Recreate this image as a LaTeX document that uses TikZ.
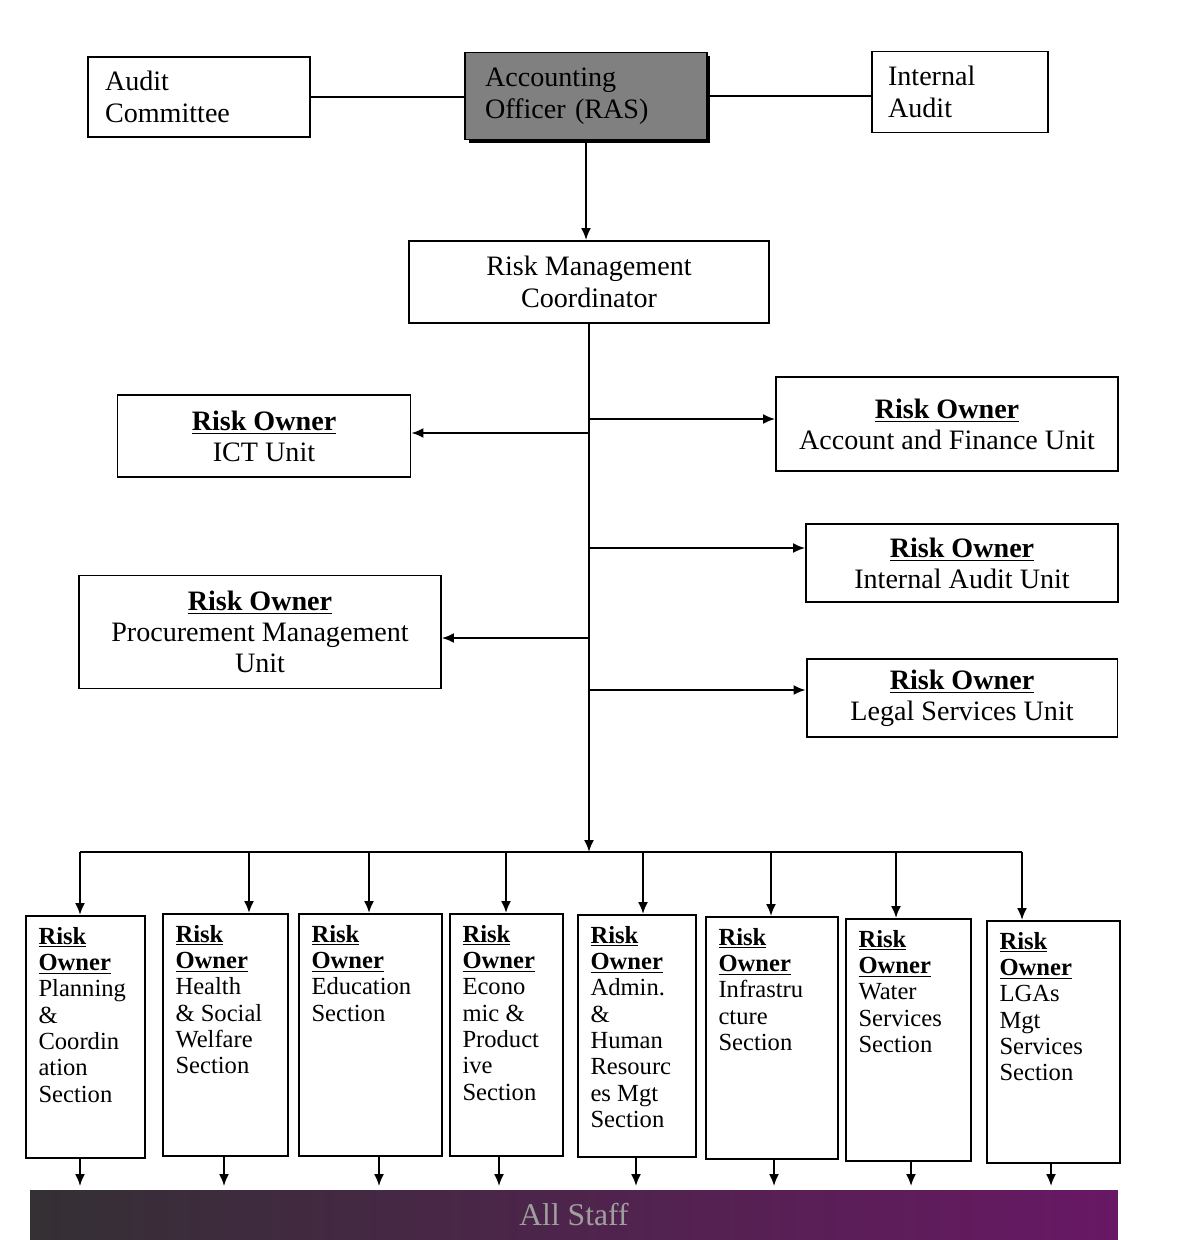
\documentclass[tikz,border=0pt]{standalone}
\usepackage{fontspec}
\setmainfont{Liberation Serif}
\usetikzlibrary{shapes, arrows.meta, positioning, shadows}
\definecolor{aogray}{RGB}{128,128,128}
\definecolor{staffdark}{RGB}{52,48,52}
\definecolor{staffpurple}{RGB}{104,24,100}
\tikzstyle{block} = [draw, fill=white, rectangle, line width=1.1pt, inner sep=0pt]
\tikzstyle{upperbox} = [block, align=left, font=\fontsize{16}{18}\selectfont]
\tikzstyle{ownerbox} = [block, align=center, font=\fontsize{16}{17.6}\selectfont]
\tikzstyle{secbox} = [block, anchor=north, inner xsep=0.25cm, inner ysep=0.22cm, font=\fontsize{14}{15}\selectfont]
\newcommand{\rohead}{\textbf{\underline{Risk Owner}}}
\newcommand{\ro}{\textbf{\underline{Risk}}\\\textbf{\underline{Owner}}}
\newcommand{\sectxt}[2]{\begin{minipage}[t][4.4cm][t]{\dimexpr#1cm-0.5cm\relax}\raggedright\ro\\#2\end{minipage}}

\begin{document}
\begin{tikzpicture}[x=0.02cm, y=-0.02cm, line width=1.1pt, >={Latex[length=2.4mm,width=2mm]}]
    \useasboundingbox (0,0) rectangle (1178,1240);
    \node [upperbox, text width=3.76cm, inner xsep=0.34cm, minimum height=1.6cm] (ac) at (199,97) {Audit\\Committee};
    \node [upperbox, fill=aogray, drop shadow={shadow xshift=0.07cm, shadow yshift=-0.07cm, fill=black, opacity=1}, text width=4.04cm, inner xsep=0.4cm, minimum height=1.74cm] (ao) at (586,96) {Accounting\\Officer (RAS)};
    \node [upperbox, text width=2.88cm, inner xsep=0.32cm, minimum height=1.62cm] (ia) at (960,92) {Internal\\Audit};
    \node [upperbox, align=center, minimum width=7.2cm, minimum height=1.64cm] (rmc) at (589,282) {Risk Management\\Coordinator};
    \node [ownerbox, minimum width=5.86cm, minimum height=1.64cm] (ict) at (264,436) {\rohead\\ICT Unit};
    \node [ownerbox, minimum width=6.84cm, minimum height=1.88cm] (afu) at (947,424) {\rohead\\Account and Finance Unit};
    \node [ownerbox, minimum width=6.24cm, minimum height=1.56cm] (iau) at (962,563) {\rohead\\Internal Audit Unit};
    \node [ownerbox, minimum width=7.24cm, minimum height=2.26cm] (pmu) at (260,632) {\rohead\\Procurement Management\\Unit};
    \node [ownerbox, minimum width=6.22cm, minimum height=1.56cm] (lsu) at (962,698) {\rohead\\Legal Services Unit};
    \node [left color=staffdark, right color=staffpurple, minimum width=21.76cm, minimum height=1cm, inner sep=0pt, text=gray!75, font=\fontsize{18}{20}\selectfont] (staff) at (574,1215) {All Staff};

    \foreach \n/\cx/\ty/\w/\txt in {1/85.5/915/2.38/{Planning\\\&\\Coordin\\ation\\Section},
        2/225.5/913/2.5/{Health\\\& Social\\Welfare\\Section},
        3/370.5/913/2.86/{Education\\Section},
        4/506.5/913/2.26/{Econo\\mic \&\\Product\\ive\\Section},
        5/637/914/2.36/{Admin.\\\&\\Human\\Resourc\\es Mgt\\Section},
        6/772/916/2.64/{Infrastru\\cture\\Section},
        7/908.5/918/2.5/{Water\\Services\\Section},
        8/1053.5/920/2.66/{LGAs\\Mgt\\Services\\Section}}
        \node [secbox, minimum width=\w cm] (s\n) at (\cx,\ty) {\sectxt{\w}{\txt}};

    \draw (ac) -- (ac -| ao.west);
    \draw (ao.east) -- (ao.east -| ia.west);
    \draw [->] (ao.south) -- (ao.south |- rmc.north);

    \coordinate (hub) at (589,852);
    \draw [->] (rmc.south) -- (hub);
    \foreach \u/\s in {ict/0.06, pmu/-0.12}
        \draw [->] ([yshift=\s cm]rmc.south |- \u.east) -- ([yshift=\s cm]\u.east);
    \foreach \u/\s in {afu/0.1, iau/0.3, lsu/0.16}
        \draw [->] ([yshift=\s cm]rmc.south |- \u.west) -- ([yshift=\s cm]\u.west);

    \foreach \n/\ax/\bx in {1/80/80, 2/249/224, 3/369/379, 4/506/499, 5/643/636, 6/771/774, 7/896/911, 8/1022/1051} {
        \coordinate (b\n) at (\ax,852);
        \coordinate (d\n) at (\bx,1000);
        \draw [->] (b\n) -- (b\n |- s\n.north);
        \draw [->] (s\n.south -| d\n) -- ([yshift=0.06cm]staff.north -| d\n);
    }
    \draw (b1) -- (b8);
\end{tikzpicture}
\end{document}
